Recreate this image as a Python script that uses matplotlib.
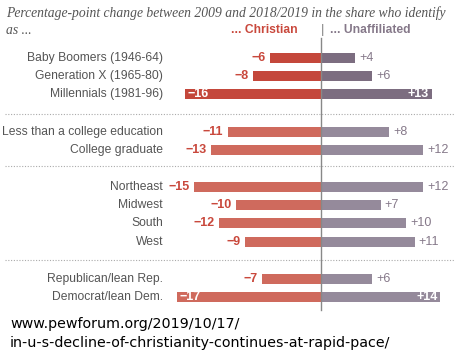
import matplotlib.pyplot as plt
import numpy as np

groups = [
    ["Baby Boomers (1946-64)", "Generation X (1965-80)", "Millennials (1981-96)"],
    ["Less than a college education", "College graduate"],
    ["Northeast", "Midwest", "South", "West"],
    ["Republican/lean Rep.", "Democrat/lean Dem."],
]
christian = [-6, -8, -16, -11, -13, -15, -10, -12, -9, -7, -17]
unaffiliated = [4, 6, 13, 8, 12, 12, 7, 10, 11, 6, 14]

W, H = 462, 360
fig = plt.figure(figsize=(W / 100, H / 100), dpi=100)
ax = fig.add_axes([0, 0, 1, 1])
# center at pixel 321, ~8.5 px per point
ppu = 8.5
cx = 321
ax.set_xlim(-cx / ppu, (W - cx) / ppu)
ax.set_ylim(H, 0)
ax.axis("off")

def px(x):
    return (x - cx) / ppu

labels, ypos, gidx = [], [], []
r = 0
for g, names in enumerate(groups):
    for n in names:
        labels.append(n)
        ypos.append(58 + 18.2 * r + 19 * g)
        gidx.append(g)
        r += 1

red_dark, red = "#c4473b", "#cf6a5d"
gr_dark, gr = "#7c6d80", "#958a9b"
txt_red, txt_gr = "#c9483c", "#857889"

for lab, y, g, c, u in zip(labels, ypos, gidx, christian, unaffiliated):
    rc = red_dark if g == 0 else red
    gc = gr_dark if g == 0 else gr
    ax.barh(y, c, height=10, color=rc, edgecolor="none")
    ax.barh(y, u, height=10, color=gc, edgecolor="none")
    ax.text(px(163), y, lab, ha="right", va="center", fontsize=8.7,
            color="#555555", family="Liberation Sans")
    if c <= -16:
        ax.text(c + 0.3, y, "\u2212%d" % -c, ha="left", va="center", fontsize=9,
                color="white", fontweight="bold", family="Liberation Sans")
    else:
        ax.text(c - 0.5, y, "\u2212%d" % -c, ha="right", va="center", fontsize=9,
                color=txt_red, fontweight="bold", family="Liberation Sans")
    if u >= 13:
        ax.text(u - 0.3, y, "+%d" % u, ha="right", va="center", fontsize=9,
                color="white", fontweight="bold", family="Liberation Sans")
    else:
        ax.text(u + 0.5, y, "+%d" % u, ha="left", va="center", fontsize=9,
                color=txt_gr, family="Liberation Sans")

# center line
ax.plot([0, 0], [38, 310], color="#888888", lw=1)

# dotted separators
for ys in [114, 166, 260]:
    ax.plot([px(5), px(455)], [ys, ys], color="#aaaaaa", lw=0.8, ls=(0, (1, 1.5)))

# title
ax.text(px(6), 13, "Percentage-point change between 2009 and 2018/2019 in the share who identify",
        ha="left", va="center", fontsize=9.8, style="italic", color="#555555",
        family="Liberation Serif")
ax.text(px(6), 30, "as ...", ha="left", va="center", fontsize=9.8, style="italic",
        color="#555555", family="Liberation Serif")
ax.text(px(298), 30, "... Christian", ha="right", va="center", fontsize=8.7,
        fontweight="bold", color=txt_red, family="Liberation Sans")
ax.text(px(321), 30, "|", ha="left", va="center", fontsize=9.5, color="#888888",
        family="Liberation Sans")
ax.text(px(330), 30, "... Unaffiliated", ha="left", va="center", fontsize=8.7,
        fontweight="bold", color=txt_gr, family="Liberation Sans")

# source
ax.text(px(10), 324, "www.pewforum.org/2019/10/17/", ha="left", va="center",
        fontsize=10.3, color="black", family="DejaVu Sans")
ax.text(px(10), 343, "in-u-s-decline-of-christianity-continues-at-rapid-pace/",
        ha="left", va="center", fontsize=10.3, color="black", family="DejaVu Sans")

fig.savefig("out.png", dpi=100, facecolor="white")
